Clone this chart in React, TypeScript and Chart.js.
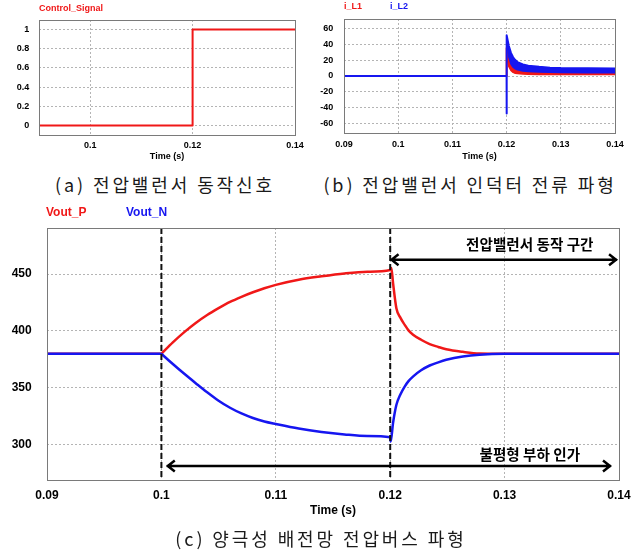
import React, { useEffect, useRef } from "react";
import { Chart, registerables } from "chart.js";

Chart.register(...registerables);

const RED = "#f01818";
const BLUE = "#1616f0";
const GRID = "#b4b4b4";
const FRAME = "#7a7a7a";
const SANS = "'Liberation Sans', Arial, sans-serif";
const KR = "'Noto Sans CJK KR', 'Noto Sans CJK SC', sans-serif";

// ---------- (a) control signal ----------
const ctrlTime = [0.09, 0.12, 0.12, 0.14];
const ctrlSignal = [0, 0, 1, 1];
const ctrlXTicks = [0.1, 0.12, 0.14];
const ctrlYTicks = [0, 0.2, 0.4, 0.6, 0.8, 1];

// ---------- (b) inductor currents ----------
const iStartTime = [0.09, 0.12, 0.12];
const iL2Start = [0, 0, -47];
const iL1Start = [0, 0, 0];
const iBandTime = [0.12003, 0.1204, 0.1208, 0.1212, 0.1216, 0.122, 0.123, 0.124, 0.126, 0.128, 0.13, 0.135, 0.14];
const iL2Upper = [51, 38, 29, 23.5, 20, 17.5, 14.5, 13, 11.5, 10.5, 10, 9.6, 9.5];
const iL2Lower = [44, 24, 15, 11, 9, 7.8, 6.3, 5.6, 5, 4.6, 4.4, 4.2, 4];
const iL1Upper = [35, 26, 19, 14.5, 11.5, 10, 8, 7, 6, 5.5, 5.2, 5, 5];
const iL1Lower = [25, 12, 7, 4.5, 3.5, 3, 2.5, 2.2, 2, 2, 1.8, 1.8, 1.8];
const iXTicks = [0.09, 0.1, 0.11, 0.12, 0.13, 0.14];
const iYTicks = [-60, -40, -20, 0, 20, 40, 60];

// ---------- (c) bipolar DC bus voltages ----------
const vPreTime = [0.09, 0.1];
const vPreLevel = [380, 380];
const pTime = [0.1, 0.101, 0.102, 0.103, 0.104, 0.105, 0.106, 0.107, 0.108, 0.109, 0.11, 0.112, 0.114, 0.116, 0.118, 0.12, 0.1201, 0.12025, 0.12054, 0.1209, 0.12127, 0.1216, 0.122, 0.1227, 0.12345, 0.1242, 0.1249, 0.12635, 0.1278, 0.13, 0.14];
const voutP = [380, 390, 399, 407, 414, 420, 425.5, 430, 434, 437.5, 440.5, 445, 448, 450.5, 452, 453.5, 455.3, 442, 420, 411.5, 405.4, 400.5, 396.7, 392.3, 388.5, 386, 384, 381.7, 380.2, 380, 380];
const nTime = [0.1, 0.101, 0.102, 0.103, 0.104, 0.105, 0.106, 0.107, 0.108, 0.109, 0.11, 0.112, 0.114, 0.116, 0.118, 0.12, 0.120044, 0.120245, 0.120538, 0.1209, 0.121265, 0.1216, 0.12199, 0.1227, 0.12345, 0.1242, 0.1249, 0.12635, 0.1278, 0.13, 0.14];
const voutN = [380, 371, 362.4, 354.2, 346.2, 338.8, 332.6, 327.6, 323.6, 320.6, 318.4, 314.4, 311.4, 309.2, 307.8, 306.8, 302.9, 319, 335, 344.5, 351.2, 356, 360, 365.5, 369.7, 372.5, 374.7, 377.6, 379.2, 380, 380];
const vXTicks = [0.09, 0.1, 0.11, 0.12, 0.13, 0.14];
const vYTicks = [300, 350, 400, 450];
const eventTimes = [0.1, 0.12];
const arrowLabels = ["전압밸런서 동작 구간", "불평형 부하 인가"];
const arrowFrom = [0.12003, 0.10047];
const arrowTo = [0.13983, 0.1393];
const arrowLevel = [462.6, 281.5];
const arrowTextAt = [0.1322, 0.1322];
const arrowTextLevel = [475.7, 291.2];

const pts = (xs: number[], ys: number[]) => xs.map((x, i) => ({ x, y: ys[i] }));
// flat part + break + curve, so the curve starts with its own slope at the event
const joined = (preX: number[], preY: number[], xs: number[], ys: number[]) => [
  ...pts(preX, preY),
  { x: xs[0], y: null },
  ...pts(xs, ys),
];

const scopePlugin = {
  id: "scope",
  afterDatasetsDraw(chart: any, _args: any, opts: any) {
    const { ctx, chartArea: a, scales } = chart;
    const xs = scales.x;
    const ys = scales.y;
    ctx.save();
    (opts.markers || []).forEach((t: number) => {
      const x = xs.getPixelForValue(t);
      ctx.setLineDash([6, 3]);
      ctx.lineWidth = 2;
      ctx.strokeStyle = "#111";
      ctx.beginPath();
      ctx.moveTo(x, a.top);
      ctx.lineTo(x, a.bottom);
      ctx.stroke();
    });
    ctx.setLineDash([]);
    ctx.strokeStyle = FRAME;
    ctx.lineWidth = 1;
    ctx.strokeRect(Math.round(a.left) + 0.5, Math.round(a.top) + 0.5, Math.round(a.right - a.left), Math.round(a.bottom - a.top));
    (opts.arrows || []).forEach((ar: any) => {
      const x1 = xs.getPixelForValue(ar.from);
      const x2 = xs.getPixelForValue(ar.to);
      const y = ys.getPixelForValue(ar.level);
      ctx.strokeStyle = "#000";
      ctx.lineWidth = 2.5;
      ctx.lineJoin = "miter";
      ctx.beginPath();
      ctx.moveTo(x1, y);
      ctx.lineTo(x2, y);
      ctx.moveTo(x1 + 8, y - 5.5);
      ctx.lineTo(x1 + 1, y);
      ctx.lineTo(x1 + 8, y + 5.5);
      ctx.moveTo(x2 - 8, y - 5.5);
      ctx.lineTo(x2 - 1, y);
      ctx.lineTo(x2 - 8, y + 5.5);
      ctx.stroke();
      ctx.font = `bold 14.6px ${KR}`;
      ctx.fillStyle = "#000";
      ctx.textAlign = "center";
      ctx.textBaseline = "middle";
      ctx.fillText(ar.text, xs.getPixelForValue(ar.textAt), ys.getPixelForValue(ar.textLevel));
    });
    (opts.legend || []).forEach((lg: any) => {
      const ds = chart.data.datasets[lg.index];
      ctx.font = `bold ${opts.legendSize}px ${SANS}`;
      ctx.fillStyle = ds.borderColor;
      ctx.textAlign = "left";
      ctx.textBaseline = "middle";
      ctx.fillText(ds.label, lg.x, lg.y);
    });
    ctx.restore();
  },
};

function axis(o: any) {
  return {
    type: "linear",
    min: o.min,
    max: o.max,
    afterBuildTicks: (s: any) => {
      s.ticks = o.ticks.map((v: number) => ({ value: v }));
    },
    afterFit: (s: any) => {
      if (o.horizontal) s.height = o.size;
      else s.width = o.size;
    },
    ticks: {
      autoSkip: false,
      maxRotation: 0,
      minRotation: 0,
      padding: o.pad,
      color: "#000",
      font: { family: SANS, size: o.font, weight: "bold" },
      callback: (v: number) => String(v),
    },
    grid: { color: GRID, lineWidth: 1, drawTicks: false },
    border: { display: false, dash: [2, 2] },
    title: o.title
      ? {
          display: true,
          text: o.title,
          color: "#000",
          font: { family: SANS, size: o.font, weight: "bold" },
          padding: { top: 0, bottom: 0 },
        }
      : { display: false },
  };
}

function ScopeChart(props: { left: number; top: number; width: number; height: number; make: () => any }) {
  const ref = useRef<HTMLCanvasElement>(null);
  useEffect(() => {
    const chart = new Chart(ref.current as HTMLCanvasElement, props.make());
    return () => chart.destroy();
  }, []);
  return (
    <canvas
      ref={ref}
      width={props.width}
      height={props.height}
      style={{ position: "absolute", left: props.left, top: props.top, width: props.width, height: props.height }}
    />
  );
}

const baseOptions = (padding: any, scales: any, scope: any) => ({
  responsive: false,
  animation: false,
  devicePixelRatio: 1,
  layout: { padding },
  elements: { point: { radius: 0 }, line: { borderJoinStyle: "round", borderCapStyle: "butt" } },
  scales,
  plugins: { legend: { display: false }, tooltip: { enabled: false }, scope },
});

const makeA = () => ({
  type: "line",
  data: {
    datasets: [
      { label: "Control_Signal", data: pts(ctrlTime, ctrlSignal), borderColor: RED, borderWidth: 2, tension: 0, fill: false },
    ],
  },
  options: baseOptions(
    { left: 0, top: 20, right: 25, bottom: 8 },
    {
      x: axis({ min: 0.09, max: 0.14, ticks: ctrlXTicks, horizontal: true, size: 27, pad: 5.6, font: 9, title: "Time (s)" }),
      y: axis({ min: -0.1, max: 1.1, ticks: ctrlYTicks, size: 39, pad: 9.7, font: 9 }),
    },
    { legend: [{ index: 0, x: 39, y: 8.5 }], legendSize: 9 }
  ),
  plugins: [scopePlugin],
});

const makeB = () => ({
  type: "line",
  data: {
    datasets: [
      { label: "i_L2", data: [...pts(iStartTime, iL2Start), ...pts(iBandTime, iL2Upper)], borderColor: BLUE, borderWidth: 2, tension: 0, fill: false },
      { label: "i_L2 ripple", data: pts(iBandTime, iL2Lower), borderColor: BLUE, backgroundColor: BLUE, borderWidth: 1.5, tension: 0, fill: "-1" },
      { label: "i_L1", data: [...pts(iStartTime, iL1Start), ...pts(iBandTime, iL1Upper)], borderColor: RED, borderWidth: 2, tension: 0, fill: false },
      { label: "i_L1 ripple", data: pts(iBandTime, iL1Lower), borderColor: RED, backgroundColor: RED, borderWidth: 1.5, tension: 0, fill: "-1" },
    ],
  },
  options: baseOptions(
    { left: 0, top: 19, right: 26, bottom: 8.5 },
    {
      x: axis({ min: 0.09, max: 0.14, ticks: iXTicks, horizontal: true, size: 28.5, pad: 6.6, font: 9, title: "Time (s)" }),
      y: axis({ min: -71.5, max: 71.5, ticks: iYTicks, size: 24, pad: 10.7, font: 9 }),
    },
    { legend: [{ index: 2, x: 24, y: 7 }, { index: 0, x: 70, y: 7 }], legendSize: 9 }
  ),
  plugins: [scopePlugin],
});

const makeC = () => ({
  type: "line",
  data: {
    datasets: [
      { label: "Vout_N", data: joined(vPreTime, vPreLevel, nTime, voutN), borderColor: BLUE, borderWidth: 2.5, cubicInterpolationMode: "monotone", spanGaps: false, fill: false },
      { label: "Vout_P", data: joined(vPreTime, vPreLevel, pTime, voutP), borderColor: RED, borderWidth: 2.5, cubicInterpolationMode: "monotone", spanGaps: false, fill: false },
    ],
  },
  options: baseOptions(
    { left: 0, top: 28, right: 22, bottom: 12 },
    {
      x: axis({ min: 0.09, max: 0.14, ticks: vXTicks, horizontal: true, size: 38, pad: 8.5, font: 12, title: "Time (s)" }),
      y: axis({ min: 269.2, max: 490.4, ticks: vYTicks, size: 47, pad: 15.3, font: 12 }),
    },
    {
      legend: [{ index: 1, x: 46, y: 13 }, { index: 0, x: 126, y: 13 }],
      legendSize: 12,
      markers: eventTimes,
      arrows: arrowLabels.map((text, i) => ({
        text,
        from: arrowFrom[i],
        to: arrowTo[i],
        level: arrowLevel[i],
        textAt: arrowTextAt[i],
        textLevel: arrowTextLevel[i],
      })),
    }
  ),
  plugins: [scopePlugin],
});

const captionStyle = (cx: number, cy: number): React.CSSProperties => ({
  position: "absolute",
  left: cx - 250,
  top: cy - 14,
  width: 500,
  height: 28,
  lineHeight: "28px",
  textAlign: "center",
  fontFamily: KR,
  fontSize: 18,
  letterSpacing: 2.9,
  color: "#1a1a1a",
  whiteSpace: "nowrap",
});

export default function App() {
  return (
    <div style={{ position: "absolute", left: 0, top: 0, width: 641, height: 555, background: "#fff", overflow: "hidden" }}>
      <ScopeChart left={0} top={0} width={320} height={170} make={makeA} />
      <ScopeChart left={320} top={0} width={321} height={170} make={makeB} />
      <ScopeChart left={0} top={200} width={641} height={330} make={makeC} />
      <div style={captionStyle(165, 184)}>(a) 전압밸런서 동작신호</div>
      <div style={captionStyle(470, 184)}>(b) 전압밸런서 인덕터 전류 파형</div>
      <div style={captionStyle(321, 538)}>(c) 양극성 배전망 전압버스 파형</div>
    </div>
  );
}
